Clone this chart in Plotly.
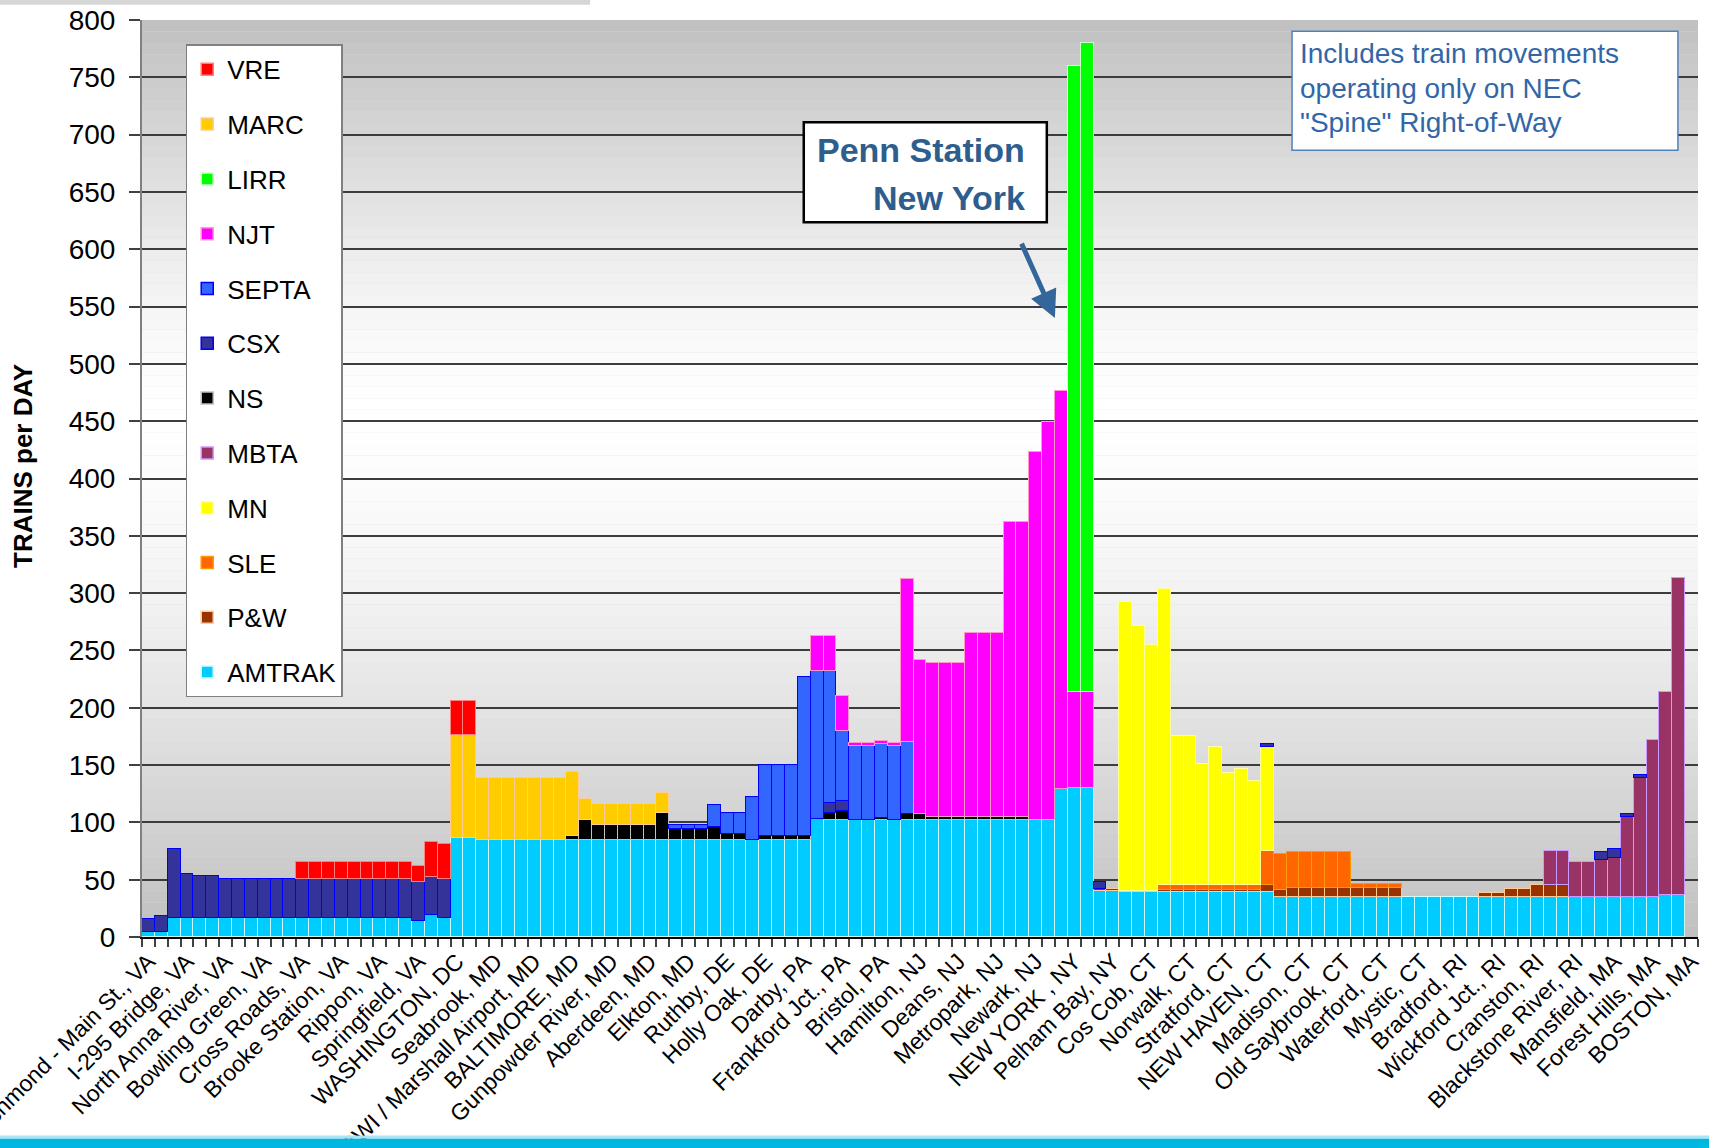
import plotly.graph_objects as go

# ---------------- data ----------------
category_index = list(range(1, 122))          # 121 line segments along the NEC spine
label_positions = list(range(1, 122, 3))      # every third segment is labelled
station_labels = [
    "Richmond - Main St., VA", "I-295 Bridge, VA", "North Anna River, VA", "Bowling Green, VA",
    "Cross Roads, VA", "Brooke Station, VA", "Rippon, VA", "Springfield, VA", "WASHINGTON, DC",
    "Seabrook, MD", "BWI / Marshall Airport, MD", "BALTIMORE, MD", "Gunpowder River, MD",
    "Aberdeen, MD", "Elkton, MD", "Ruthby, DE", "Holly Oak, DE", "Darby, PA", "Frankford Jct., PA",
    "Bristol, PA", "Hamilton, NJ", "Deans, NJ", "Metropark, NJ", "Newark, NJ", "NEW YORK , NY",
    "Pelham Bay, NY", "Cos Cob, CT", "Norwalk, CT", "Stratford, CT", "NEW HAVEN, CT", "Madison, CT",
    "Old Saybrook, CT", "Waterford, CT", "Mystic, CT", "Bradford, RI", "Wickford Jct., RI",
    "Cranston, RI", "Blackstone River, RI", "Mansfield, MA", "Forest Hills, MA", "BOSTON, MA",
]

amtrak = [
    4, 4, 17, 17, 17, 17, 17, 17, 17, 17,
    17, 17, 17, 17, 17, 17, 17, 17, 17, 17,
    17, 14, 19, 17, 86, 86, 85, 85, 85, 85,
    85, 85, 85, 85, 85, 85, 85, 85, 85, 85,
    85, 85, 85, 85, 85, 85, 85, 85, 85, 85,
    85, 85, 103, 102, 102, 102, 102, 102, 102, 102,
    102, 102, 102, 102, 102, 102, 102, 102, 102, 102,
    102, 129, 130, 130, 40, 40, 39, 39, 39, 39,
    39, 39, 39, 39, 39, 39, 39, 39, 35, 35,
    35, 35, 35, 35, 35, 35, 35, 35, 35, 35,
    35, 35, 35, 35, 35, 35, 35, 35, 35, 35,
    35, 35, 35, 35, 35, 35, 35, 35, 37, 37,
    0,
]
pw = [
    0, 0, 0, 0, 0, 0, 0, 0, 0, 0,
    0, 0, 0, 0, 0, 0, 0, 0, 0, 0,
    0, 0, 0, 0, 0, 0, 0, 0, 0, 0,
    0, 0, 0, 0, 0, 0, 0, 0, 0, 0,
    0, 0, 0, 0, 0, 0, 0, 0, 0, 0,
    0, 0, 0, 0, 0, 0, 0, 0, 0, 0,
    0, 0, 0, 0, 0, 0, 0, 0, 0, 0,
    0, 0, 0, 0, 2, 2, 1, 1, 1, 2,
    2, 2, 2, 2, 2, 2, 2, 6, 6, 8,
    8, 8, 8, 8, 8, 8, 8, 8, 0, 0,
    0, 0, 0, 0, 3, 3, 7, 7, 10, 10,
    10, 0, 0, 0, 0, 0, 0, 0, 0, 0,
    0,
]
sle = [
    0, 0, 0, 0, 0, 0, 0, 0, 0, 0,
    0, 0, 0, 0, 0, 0, 0, 0, 0, 0,
    0, 0, 0, 0, 0, 0, 0, 0, 0, 0,
    0, 0, 0, 0, 0, 0, 0, 0, 0, 0,
    0, 0, 0, 0, 0, 0, 0, 0, 0, 0,
    0, 0, 0, 0, 0, 0, 0, 0, 0, 0,
    0, 0, 0, 0, 0, 0, 0, 0, 0, 0,
    0, 0, 0, 0, 0, 0, 0, 0, 0, 4,
    4, 4, 4, 4, 4, 4, 4, 30, 31, 31,
    31, 31, 31, 31, 3, 3, 3, 3, 0, 0,
    0, 0, 0, 0, 0, 0, 0, 0, 0, 0,
    0, 0, 0, 0, 0, 0, 0, 0, 0, 0,
    0,
]
mn = [
    0, 0, 0, 0, 0, 0, 0, 0, 0, 0,
    0, 0, 0, 0, 0, 0, 0, 0, 0, 0,
    0, 0, 0, 0, 0, 0, 0, 0, 0, 0,
    0, 0, 0, 0, 0, 0, 0, 0, 0, 0,
    0, 0, 0, 0, 0, 0, 0, 0, 0, 0,
    0, 0, 0, 0, 0, 0, 0, 0, 0, 0,
    0, 0, 0, 0, 0, 0, 0, 0, 0, 0,
    0, 0, 0, 0, 0, 0, 252, 231, 215, 259,
    130, 130, 106, 121, 98, 102, 91, 91, 0, 0,
    0, 0, 0, 0, 0, 0, 0, 0, 0, 0,
    0, 0, 0, 0, 0, 0, 0, 0, 0, 0,
    0, 0, 0, 0, 0, 0, 0, 0, 0, 0,
    0,
]
mbta = [
    0, 0, 0, 0, 0, 0, 0, 0, 0, 0,
    0, 0, 0, 0, 0, 0, 0, 0, 0, 0,
    0, 0, 0, 0, 0, 0, 0, 0, 0, 0,
    0, 0, 0, 0, 0, 0, 0, 0, 0, 0,
    0, 0, 0, 0, 0, 0, 0, 0, 0, 0,
    0, 0, 0, 0, 0, 0, 0, 0, 0, 0,
    0, 0, 0, 0, 0, 0, 0, 0, 0, 0,
    0, 0, 0, 0, 0, 0, 0, 0, 0, 0,
    0, 0, 0, 0, 0, 0, 0, 0, 0, 0,
    0, 0, 0, 0, 0, 0, 0, 0, 0, 0,
    0, 0, 0, 0, 0, 0, 0, 0, 0, 30,
    30, 30, 30, 32, 34, 70, 104, 137, 177, 276,
    0,
]
ns = [
    0, 0, 0, 0, 0, 0, 0, 0, 0, 0,
    0, 0, 0, 0, 0, 0, 0, 0, 0, 0,
    0, 0, 0, 0, 0, 0, 0, 0, 0, 0,
    0, 0, 0, 3, 17, 13, 13, 13, 13, 13,
    23, 9, 9, 9, 11, 5, 5, 0, 3, 3,
    3, 3, 0, 6, 8, 0, 0, 2, 0, 5,
    5, 3, 3, 3, 3, 3, 3, 3, 3, 0,
    0, 0, 0, 0, 0, 0, 0, 0, 0, 0,
    0, 0, 0, 0, 0, 0, 0, 0, 0, 0,
    0, 0, 0, 0, 0, 0, 0, 0, 0, 0,
    0, 0, 0, 0, 0, 0, 0, 0, 0, 0,
    0, 0, 0, 0, 0, 0, 0, 0, 0, 0,
    0,
]
csx = [
    12, 14, 60, 38, 36, 36, 34, 34, 34, 34,
    34, 34, 34, 34, 34, 34, 34, 34, 34, 34,
    34, 34, 33, 34, 0, 0, 0, 0, 0, 0,
    0, 0, 0, 0, 0, 0, 0, 0, 0, 0,
    0, 0, 0, 0, 0, 0, 0, 0, 0, 0,
    0, 0, 0, 9, 9, 0, 0, 0, 0, 0,
    0, 0, 0, 0, 0, 0, 0, 0, 0, 0,
    0, 0, 0, 0, 6, 0, 0, 0, 0, 0,
    0, 0, 0, 0, 0, 0, 0, 2, 0, 0,
    0, 0, 0, 0, 0, 0, 0, 0, 0, 0,
    0, 0, 0, 0, 0, 0, 0, 0, 0, 0,
    0, 0, 0, 7, 8, 2, 2, 0, 0, 0,
    0,
]
septa = [
    0, 0, 0, 0, 0, 0, 0, 0, 0, 0,
    0, 0, 0, 0, 0, 0, 0, 0, 0, 0,
    0, 0, 0, 0, 0, 0, 0, 0, 0, 0,
    0, 0, 0, 0, 0, 0, 0, 0, 0, 0,
    0, 4, 4, 4, 19, 18, 18, 37, 62, 62,
    62, 139, 129, 115, 61, 65, 65, 64, 65, 63,
    0, 0, 0, 0, 0, 0, 0, 0, 0, 0,
    0, 0, 0, 0, 0, 0, 0, 0, 0, 0,
    0, 0, 0, 0, 0, 0, 0, 0, 0, 0,
    0, 0, 0, 0, 0, 0, 0, 0, 0, 0,
    0, 0, 0, 0, 0, 0, 0, 0, 0, 0,
    0, 0, 0, 0, 0, 0, 0, 0, 0, 0,
    0,
]
njt = [
    0, 0, 0, 0, 0, 0, 0, 0, 0, 0,
    0, 0, 0, 0, 0, 0, 0, 0, 0, 0,
    0, 0, 0, 0, 0, 0, 0, 0, 0, 0,
    0, 0, 0, 0, 0, 0, 0, 0, 0, 0,
    0, 0, 0, 0, 0, 0, 0, 0, 0, 0,
    0, 0, 31, 31, 30, 2, 2, 3, 2, 142,
    135, 134, 134, 134, 160, 160, 160, 257, 257, 321,
    347, 347, 84, 84, 0, 0, 0, 0, 0, 0,
    0, 0, 0, 0, 0, 0, 0, 0, 0, 0,
    0, 0, 0, 0, 0, 0, 0, 0, 0, 0,
    0, 0, 0, 0, 0, 0, 0, 0, 0, 0,
    0, 0, 0, 0, 0, 0, 0, 0, 0, 0,
    0,
]
lirr = [
    0, 0, 0, 0, 0, 0, 0, 0, 0, 0,
    0, 0, 0, 0, 0, 0, 0, 0, 0, 0,
    0, 0, 0, 0, 0, 0, 0, 0, 0, 0,
    0, 0, 0, 0, 0, 0, 0, 0, 0, 0,
    0, 0, 0, 0, 0, 0, 0, 0, 0, 0,
    0, 0, 0, 0, 0, 0, 0, 0, 0, 0,
    0, 0, 0, 0, 0, 0, 0, 0, 0, 0,
    0, 0, 546, 566, 0, 0, 0, 0, 0, 0,
    0, 0, 0, 0, 0, 0, 0, 0, 0, 0,
    0, 0, 0, 0, 0, 0, 0, 0, 0, 0,
    0, 0, 0, 0, 0, 0, 0, 0, 0, 0,
    0, 0, 0, 0, 0, 0, 0, 0, 0, 0,
    0,
]
marc = [
    0, 0, 0, 0, 0, 0, 0, 0, 0, 0,
    0, 0, 0, 0, 0, 0, 0, 0, 0, 0,
    0, 0, 0, 0, 90, 90, 54, 54, 54, 54,
    54, 54, 54, 56, 18, 18, 18, 18, 18, 18,
    18, 0, 0, 0, 0, 0, 0, 0, 0, 0,
    0, 0, 0, 0, 0, 0, 0, 0, 0, 0,
    0, 0, 0, 0, 0, 0, 0, 0, 0, 0,
    0, 0, 0, 0, 0, 0, 0, 0, 0, 0,
    0, 0, 0, 0, 0, 0, 0, 0, 0, 0,
    0, 0, 0, 0, 0, 0, 0, 0, 0, 0,
    0, 0, 0, 0, 0, 0, 0, 0, 0, 0,
    0, 0, 0, 0, 0, 0, 0, 0, 0, 0,
    0,
]
vre = [
    0, 0, 0, 0, 0, 0, 0, 0, 0, 0,
    0, 0, 14, 14, 14, 14, 14, 14, 14, 14,
    14, 14, 31, 30, 30, 30, 0, 0, 0, 0,
    0, 0, 0, 0, 0, 0, 0, 0, 0, 0,
    0, 0, 0, 0, 0, 0, 0, 0, 0, 0,
    0, 0, 0, 0, 0, 0, 0, 0, 0, 0,
    0, 0, 0, 0, 0, 0, 0, 0, 0, 0,
    0, 0, 0, 0, 0, 0, 0, 0, 0, 0,
    0, 0, 0, 0, 0, 0, 0, 0, 0, 0,
    0, 0, 0, 0, 0, 0, 0, 0, 0, 0,
    0, 0, 0, 0, 0, 0, 0, 0, 0, 0,
    0, 0, 0, 0, 0, 0, 0, 0, 0, 0,
    0,
]

# stacking order bottom -> top: (name, values, fill, edge)
series = [
    ("AMTRAK", amtrak, "#00CCFF", "#CCFFFF"),
    ("P&W", pw, "#993300", "#FFCC99"),
    ("SLE", sle, "#FF6600", "#FF9900"),
    ("MN", mn, "#FFFF00", "#FFFF99"),
    ("MBTA", mbta, "#993366", "#CC99FF"),
    ("NS", ns, "#000000", "#C0C0C0"),
    ("CSX", csx, "#333399", "#0000FF"),
    ("SEPTA", septa, "#3366FF", "#0000FF"),
    ("NJT", njt, "#FF00FF", "#FF99CC"),
    ("LIRR", lirr, "#00FF00", "#CCFFCC"),
    ("MARC", marc, "#FFCC00", "#FFCC99"),
    ("VRE", vre, "#FF0000", "#FF8080"),
]
for _, vals, _, _ in series:
    assert len(vals) == len(category_index)

FONT = "Arial, 'Liberation Sans', sans-serif"

fig = go.Figure()
n_series = len(series)
for i, (name, vals, fill, edge) in enumerate(series):
    fig.add_trace(go.Bar(
        x=category_index,
        y=[v if v else None for v in vals],
        name=name,
        legendgroup=name,
        legendrank=n_series - i,          # legend lists top of stack first
        width=1.0,
        marker=dict(color=fill, line=dict(color=edge, width=1.5)),
        hovertemplate=name + ": %{y}<extra></extra>",
    ))

# ---------------- background gradient (style only) ----------------
grad_stops = [(0, 192), (100, 210), (200, 228), (300, 243), (400, 252),
              (460, 255), (520, 250), (600, 236), (700, 214), (800, 192)]


def gray_at(v):
    for (a, ga), (b, gb) in zip(grad_stops[:-1], grad_stops[1:]):
        if a <= v <= b:
            g = ga + (gb - ga) * (v - a) / (b - a)
            g = int(round(g))
            return f"rgb({g},{g},{g})"
    return "rgb(200,200,200)"


shapes = []
band = 10
for lo in range(0, 800, band):
    shapes.append(dict(type="rect", xref="paper", yref="y", x0=0, x1=1, y0=lo, y1=lo + band,
                       fillcolor=gray_at(lo + band / 2), line=dict(width=0), layer="below"))

# decorative slide elements (bottom cyan band, top-left rule)
shapes.append(dict(type="rect", xref="paper", yref="paper", x0=-0.1, x1=1.02, y0=-0.2165, y1=-0.2200,
                   fillcolor="#A8E4F4", line=dict(width=0), layer="above"))
shapes.append(dict(type="rect", xref="paper", yref="paper", x0=-0.1, x1=1.02, y0=-0.2200, y1=-0.240,
                   fillcolor="#00B7E1", line=dict(width=0), layer="above"))
shapes.append(dict(type="rect", xref="paper", yref="paper", x0=-0.1, x1=0.288, y0=1.0165, y1=1.03,
                   fillcolor="#D6D6D6", line=dict(width=0), layer="above"))
# callout boxes
shapes.append(dict(type="rect", xref="paper", yref="paper", x0=0.4253, x1=0.5815, y0=0.7795, y1=0.8884,
                   fillcolor="white", line=dict(color="black", width=2.5), layer="above"))
shapes.append(dict(type="rect", xref="paper", yref="paper", x0=0.7391, x1=0.9871, y0=0.8579, y1=0.9876,
                   fillcolor="white", line=dict(color="#4F81BD", width=1.5), layer="above"))

penn_lines = ["<b>Penn Station</b>", "<b>New York</b>"]
penn_y = [0.8587, 0.8064]
note_lines = ["Includes train movements", "operating only on NEC", "\"Spine\" Right-of-Way"]
note_y = [0.9632, 0.9252, 0.8883]

annotations = [
    dict(text="<b>TRAINS per DAY</b>", xref="paper", yref="paper", x=-0.0765, y=0.5136,
         xanchor="center", yanchor="middle", textangle=-90, showarrow=False,
         font=dict(family=FONT, size=26, color="black")),
    dict(text="", xref="paper", yref="paper", x=0.5867, y=0.6749, ax=-34, ay=-76,
         showarrow=True, arrowhead=2, arrowsize=1.1, arrowwidth=5, arrowcolor="#33669A", standoff=0),
]
for t, yy in zip(penn_lines, penn_y):
    annotations.append(dict(text=t, xref="paper", yref="paper", x=0.5687, y=yy, xanchor="right",
                            yanchor="middle", showarrow=False,
                            font=dict(family=FONT, size=34, color="#2E5E8E")))
for t, yy in zip(note_lines, note_y):
    annotations.append(dict(text=t, xref="paper", yref="paper", x=0.7429, y=yy, xanchor="left",
                            yanchor="middle", showarrow=False,
                            font=dict(family=FONT, size=28, color="#3366A8")))

fig.update_layout(
    width=1709, height=1148,
    margin=dict(l=142, r=11, t=20, b=211),
    paper_bgcolor="white", plot_bgcolor="rgb(220,220,220)",
    barmode="stack", bargap=0,
    font=dict(family=FONT, color="black"),
    showlegend=True,
    legend=dict(x=0.0281, y=0.9734, xanchor="left", yanchor="top",
                bgcolor="white", bordercolor="#808080", borderwidth=1.5,
                font=dict(family=FONT, size=26, color="black"),
                traceorder="grouped", tracegroupgap=18),
    shapes=shapes,
    annotations=annotations,
    xaxis=dict(range=[0.5, 121.5], tickmode="array", tickvals=label_positions, ticktext=station_labels,
               tickangle=-45, ticks="", showline=True, linecolor="black", linewidth=2,
               showgrid=False, zeroline=False, automargin=False, ticklabeloverflow="allow",
               tickfont=dict(family=FONT, size=23, color="black"),
               minor=dict(ticks="outside", tick0=0.5, dtick=1, ticklen=8, tickcolor="#404040",
                          tickwidth=1.5, showgrid=False)),
    yaxis=dict(range=[0, 800], tick0=0, dtick=50, showgrid=True, gridcolor="#3C3C3C", gridwidth=1.5,
               ticks="outside", ticklen=11, tickcolor="#404040", tickwidth=1.5,
               showline=True, linecolor="#808080", linewidth=2, zeroline=False, automargin=False,
               ticklabelstandoff=8, tickfont=dict(family=FONT, size=28, color="black")),
)

fig.write_html("out.html")
